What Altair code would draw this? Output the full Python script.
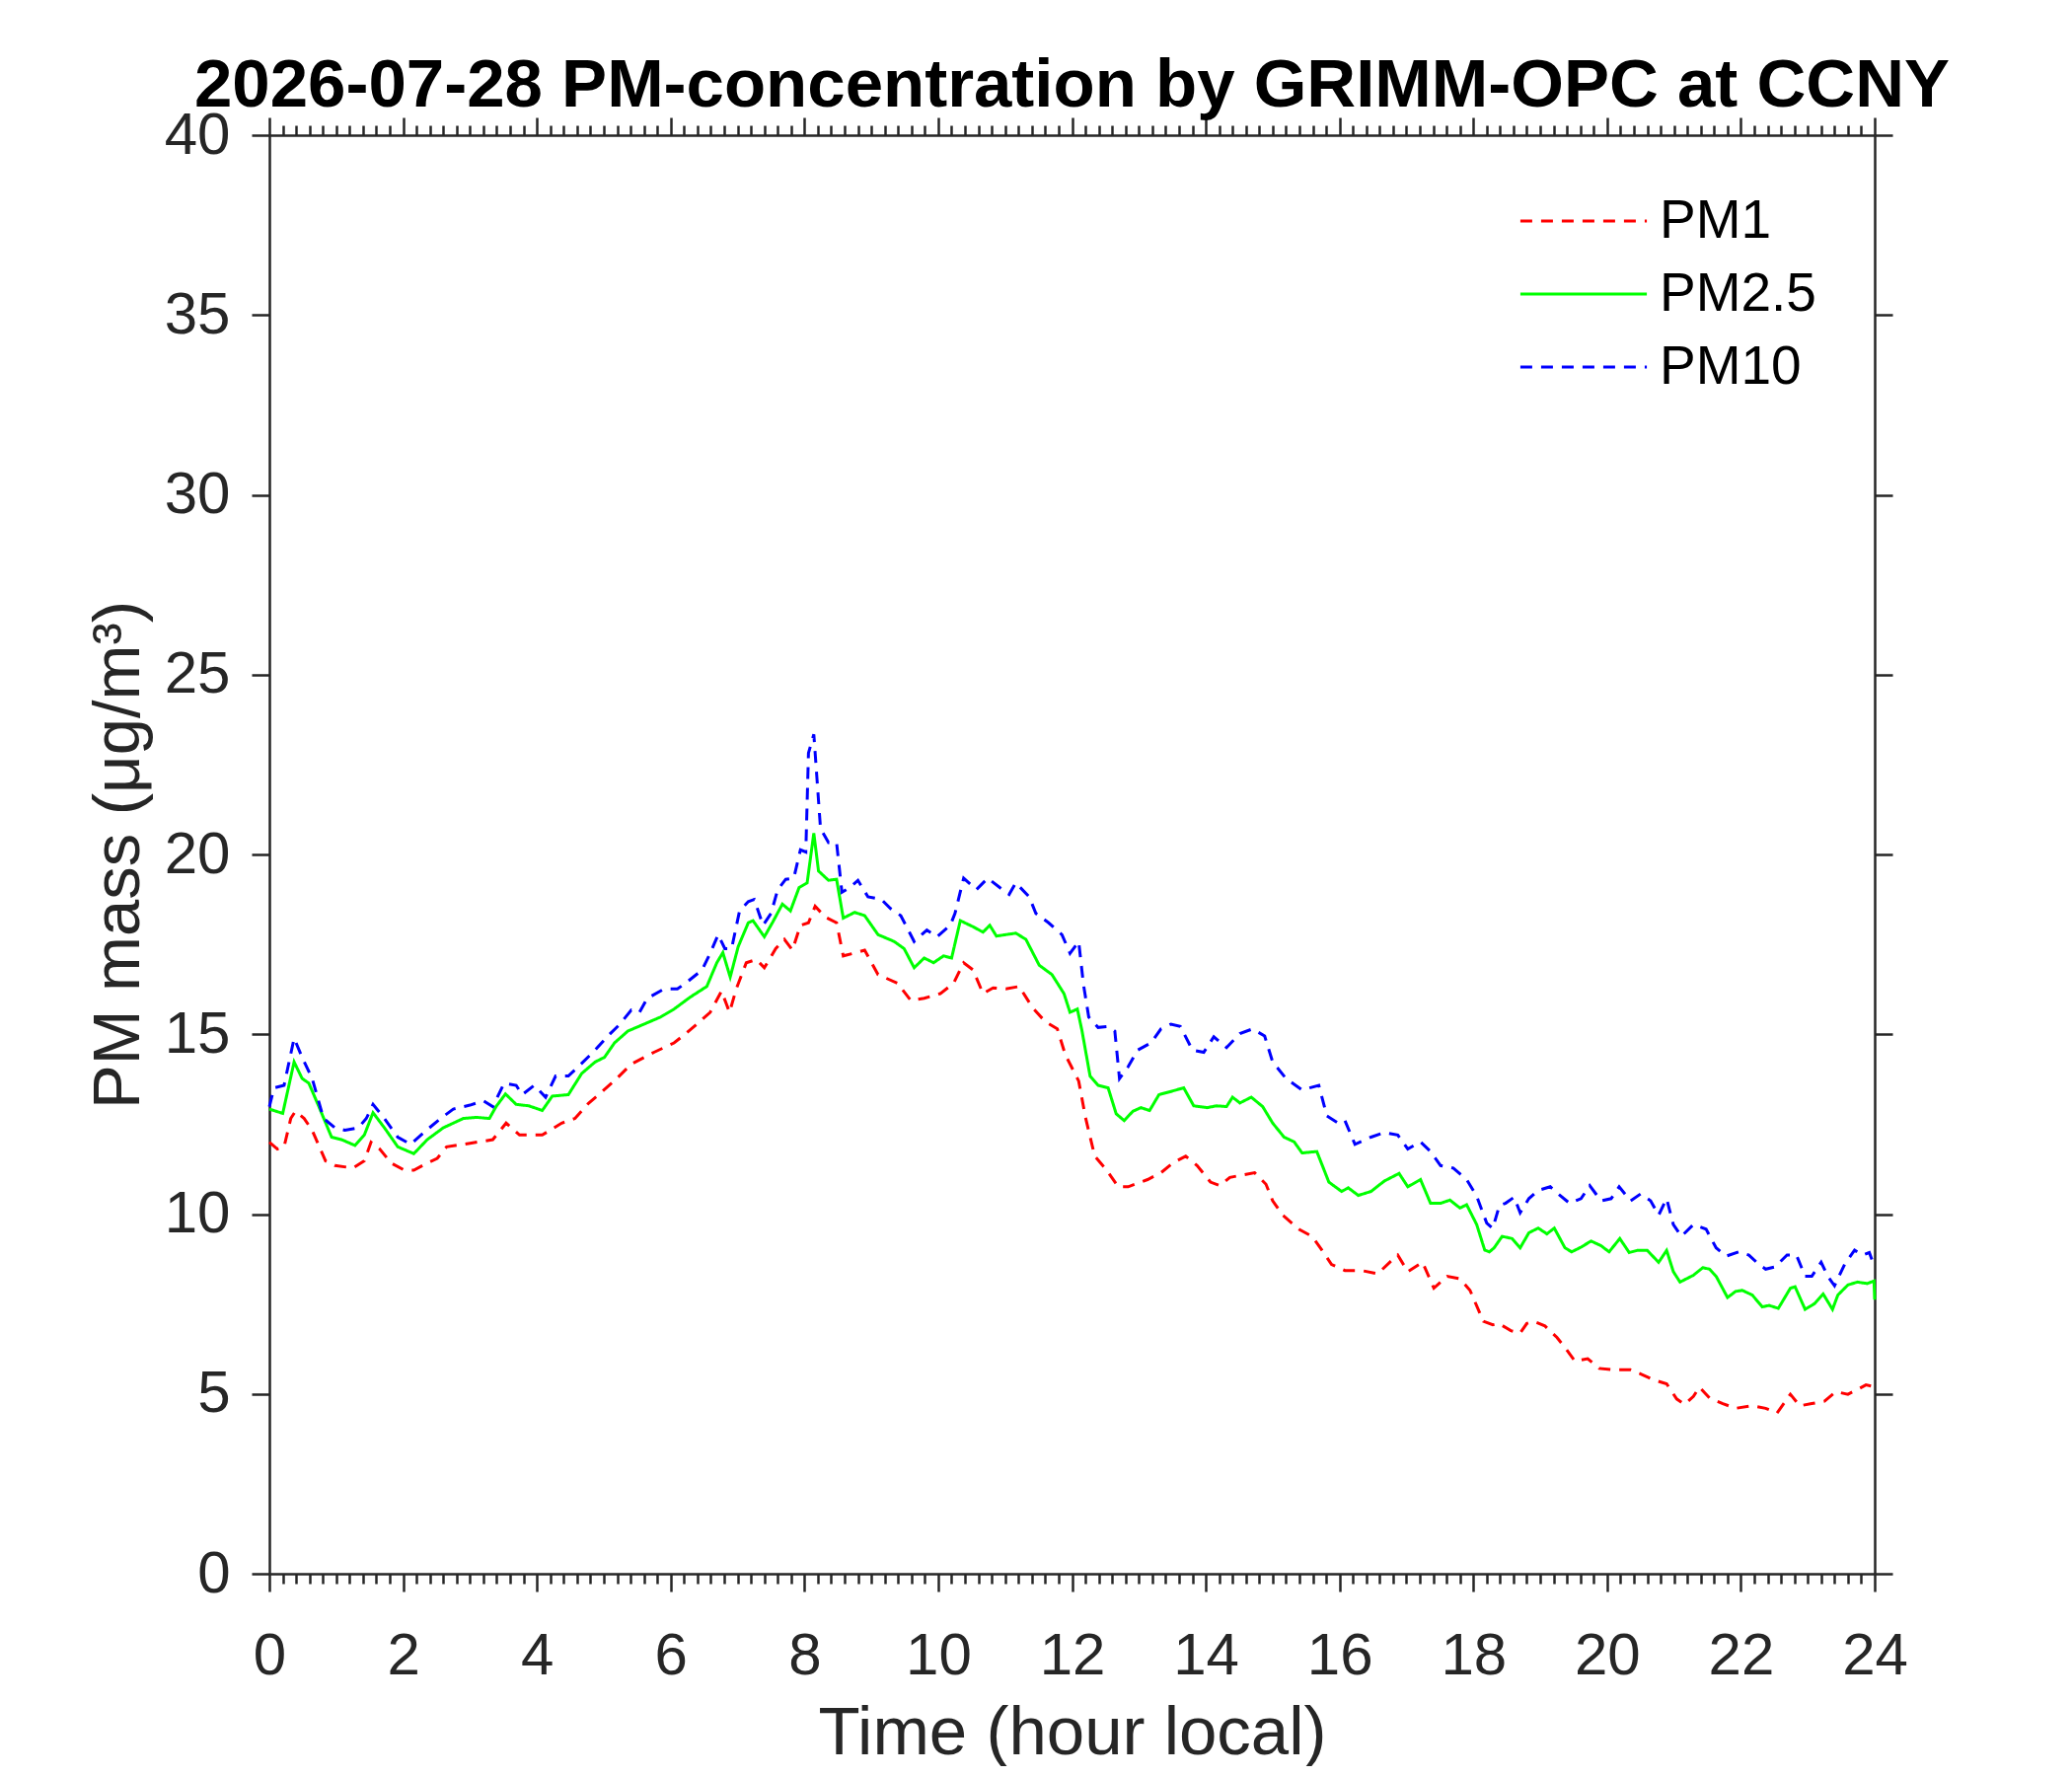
import altair as alt
import pandas as pd

# ---------------- data ----------------
series_names = ["PM1", "PM2.5", "PM10"]
series_colors = ["#ff0000", "#00ff00", "#0000ff"]

pm1_hours = [0.0, 0.12, 0.22, 0.32, 0.39, 0.52, 0.64, 0.84, 0.98, 1.25, 1.42, 1.52, 1.65, 1.82,
             2.02, 2.16, 2.36, 2.51, 2.65, 3.0, 3.34, 3.54, 3.74, 4.08, 4.37, 4.57, 4.77, 4.96,
             5.16, 5.41, 5.75, 6.05, 6.2, 6.39, 6.59, 6.76, 6.88, 6.98, 7.13, 7.28, 7.4, 7.57,
             7.7, 7.82, 7.94, 8.06, 8.16, 8.31, 8.48, 8.58, 8.73, 8.9, 9.1, 9.39, 9.59, 9.79,
             10.03, 10.23, 10.38, 10.52, 10.67, 10.82, 11.01, 11.21, 11.41, 11.6, 11.78, 11.9,
             12.1, 12.2, 12.34, 12.52, 12.69, 12.84, 13.13, 13.33, 13.52, 13.7, 13.87, 14.07,
             14.21, 14.36, 14.56, 14.73, 14.9, 15.0, 15.15, 15.39, 15.59, 15.74, 15.88, 16.08,
             16.33, 16.57, 16.75, 16.87, 17.02, 17.24, 17.41, 17.61, 17.8, 17.95, 18.15, 18.29,
             18.38, 18.56, 18.7, 18.8, 18.9, 19.07, 19.25, 19.39, 19.52, 19.71, 19.88, 20.11,
             20.35, 20.52, 20.7, 20.89, 21.04, 21.16, 21.29, 21.38, 21.53, 21.73, 21.92, 22.17,
             22.37, 22.54, 22.64, 22.74, 22.88, 23.06, 23.25, 23.42, 23.6, 23.74, 23.87, 24.0]
pm1_values = [12.0, 11.81, 11.87, 12.66, 12.86, 12.66, 12.33, 11.48, 11.35, 11.28, 11.48, 12.0, 11.81, 11.42,
              11.22, 11.22, 11.42, 11.55, 11.87, 11.97, 12.07, 12.53, 12.2, 12.2, 12.53, 12.66, 13.08, 13.38,
              13.71, 14.17, 14.5, 14.76, 14.98, 15.28, 15.61, 16.2, 15.61, 16.26, 16.99, 17.08, 16.85, 17.38,
              17.64, 17.34, 18.03, 18.1, 18.56, 18.26, 18.1, 17.18, 17.25, 17.34, 16.66, 16.42, 15.94, 16.0,
              16.13, 16.42, 16.99, 16.79, 16.13, 16.29, 16.26, 16.33, 15.74, 15.35, 15.15, 14.43,
              13.7, 12.7, 11.61, 11.22, 10.76, 10.76, 10.96, 11.15, 11.44, 11.61, 11.35, 10.89,
              10.79, 11.02, 11.09, 11.15, 10.83, 10.37, 9.97, 9.58, 9.38, 8.99, 8.6, 8.43,
              8.43, 8.34, 8.66, 8.86, 8.4, 8.66, 7.94, 8.27, 8.2, 7.88, 7.02, 6.92,
              6.96, 6.76, 6.69, 6.96, 7.02, 6.89, 6.57, 6.24, 5.91, 5.98, 5.71, 5.67,
              5.67, 5.54, 5.39, 5.28, 4.86, 4.71, 4.93, 5.19, 4.89, 4.73, 4.6, 4.67,
              4.6, 4.47, 4.73, 4.99, 4.67, 4.73, 4.8, 5.06, 4.99, 5.12, 5.25, 5.2]

pm25_hours = [0.0, 0.2, 0.37, 0.49, 0.59, 0.74, 0.93, 1.08, 1.28, 1.42, 1.55, 1.72, 1.92, 2.16,
              2.36, 2.6, 2.9, 3.1, 3.29, 3.39, 3.53, 3.69, 3.88, 4.08, 4.23, 4.47, 4.67, 4.87,
              5.01, 5.16, 5.36, 5.55, 5.85, 6.05, 6.29, 6.54, 6.69, 6.78, 6.89, 7.01, 7.16, 7.23,
              7.4, 7.52, 7.67, 7.79, 7.92, 8.04, 8.14, 8.21, 8.36, 8.48, 8.58, 8.75, 8.9, 9.1,
              9.34, 9.49, 9.64, 9.79, 9.93, 10.08, 10.2, 10.33, 10.52, 10.67, 10.77, 10.87, 11.01,
              11.16, 11.31, 11.51, 11.7, 11.88, 11.97, 12.08, 12.15, 12.27, 12.39, 12.54, 12.66,
              12.78, 12.91, 13.03, 13.16, 13.3, 13.48, 13.67, 13.82, 14.02, 14.16, 14.31, 14.4,
              14.51, 14.68, 14.85, 15.0, 15.17, 15.32, 15.44, 15.66, 15.84, 16.03, 16.13, 16.28,
              16.47, 16.67, 16.89, 17.02, 17.21, 17.36, 17.51, 17.65, 17.8, 17.9, 18.05, 18.17,
              18.24, 18.31, 18.43, 18.58, 18.7, 18.83, 18.97, 19.1, 19.21, 19.37, 19.47, 19.61,
              19.76, 19.91, 20.03, 20.19, 20.33, 20.45, 20.6, 20.77, 20.89, 20.99, 21.09, 21.29,
              21.43, 21.53, 21.63, 21.8, 21.92, 22.02, 22.17, 22.32, 22.42, 22.56, 22.74, 22.81,
              22.96, 23.1, 23.23, 23.37, 23.45, 23.6, 23.74, 23.89, 23.99, 24.0]
pm25_values = [12.92, 12.8, 14.23, 13.77, 13.64, 12.99, 12.14, 12.07, 11.91, 12.2, 12.82, 12.4, 11.87, 11.68,
               12.07, 12.4, 12.66, 12.69, 12.66, 12.99, 13.34, 13.05, 13.01, 12.88, 13.28, 13.32, 13.91, 14.23,
               14.36, 14.76, 15.09, 15.24, 15.48, 15.7, 16.03, 16.33, 16.99, 17.27, 16.59, 17.44, 18.1, 18.16,
               17.71, 18.1, 18.62, 18.43, 19.08, 19.21, 20.59, 19.54, 19.28, 19.31, 18.23, 18.39, 18.3, 17.77,
               17.58, 17.38, 16.85, 17.12, 16.99, 17.18, 17.12, 18.16, 17.99, 17.84, 18.03, 17.73, 17.77,
               17.81, 17.64, 16.92, 16.66, 16.13, 15.61, 15.7, 15.09, 13.84, 13.58, 13.51, 12.79,
               12.6, 12.86, 12.96, 12.88, 13.32, 13.41, 13.51, 13.01, 12.96, 13.01, 12.99, 13.25,
               13.09, 13.25, 12.99, 12.53, 12.14, 12.01, 11.7, 11.74, 10.89, 10.63, 10.73, 10.52,
               10.63, 10.92, 11.13, 10.76, 10.96, 10.3, 10.3, 10.39, 10.17, 10.26, 9.71, 9.0,
               8.95, 9.06, 9.38, 9.32, 9.06, 9.48, 9.61, 9.45, 9.61, 9.06, 8.95, 9.08,
               9.25, 9.12, 8.95, 9.32, 8.93, 8.99, 8.99, 8.66, 8.99, 8.4, 8.11, 8.3,
               8.51, 8.47, 8.27, 7.68, 7.85, 7.88, 7.75, 7.42, 7.46, 7.38, 7.94, 7.98,
               7.35, 7.51, 7.78, 7.35, 7.75, 8.03, 8.11, 8.07, 8.14, 7.62]

pm10_hours = [0.0, 0.07, 0.22, 0.37, 0.49, 0.64, 0.81, 0.98, 1.13, 1.33, 1.45, 1.55, 1.72, 1.92,
              2.11, 2.31, 2.56, 2.75, 3.0, 3.2, 3.34, 3.51, 3.69, 3.78, 3.96, 4.13, 4.28, 4.47,
              4.62, 4.87, 5.06, 5.24, 5.41, 5.53, 5.65, 5.9, 6.1, 6.25, 6.47, 6.59, 6.71, 6.81,
              6.91, 7.03, 7.16, 7.25, 7.38, 7.5, 7.6, 7.72, 7.84, 7.94, 8.02, 8.06, 8.14, 8.19,
              8.24, 8.36, 8.48, 8.56, 8.68, 8.8, 8.95, 9.15, 9.29, 9.44, 9.64, 9.83, 9.98, 10.18,
              10.25, 10.38, 10.57, 10.74, 10.92, 11.06, 11.16, 11.36, 11.46, 11.65, 11.85, 11.97,
              12.1, 12.17, 12.25, 12.39, 12.54, 12.64, 12.71, 12.84, 12.98, 13.18, 13.33, 13.48,
              13.62, 13.8, 13.97, 14.12, 14.31, 14.51, 14.7, 14.88, 15.0, 15.2, 15.44, 15.69,
              15.81, 15.98, 16.08, 16.23, 16.47, 16.67, 16.87, 17.02, 17.21, 17.36, 17.51, 17.7,
              17.9, 18.05, 18.2, 18.29, 18.39, 18.48, 18.61, 18.7, 18.83, 18.97, 19.15, 19.27,
              19.44, 19.61, 19.74, 19.91, 20.06, 20.18, 20.35, 20.5, 20.65, 20.77, 20.89, 20.99,
              21.11, 21.29, 21.48, 21.63, 21.78, 21.97, 22.12, 22.27, 22.37, 22.51, 22.69, 22.83,
              22.96, 23.06, 23.2, 23.3, 23.4, 23.55, 23.7, 23.82, 23.92, 24.0]
pm10_values = [12.99, 13.51, 13.58, 14.89, 14.36, 13.77, 12.66, 12.4, 12.33, 12.4, 12.66, 13.05, 12.66, 12.14,
               11.94, 12.27, 12.66, 12.92, 13.03, 13.15, 12.99, 13.64, 13.58, 13.32, 13.58, 13.25, 13.84, 13.84,
               14.1, 14.56, 14.95, 15.28, 15.67, 15.6, 16.0, 16.26, 16.26, 16.46, 16.79, 17.25, 17.77, 17.38,
               17.38, 18.43, 18.69, 18.75, 18.03, 18.36, 19.02, 19.31, 19.34, 20.13, 20.07, 22.82, 23.34, 22.03,
               20.72, 20.33, 20.33, 18.95, 19.08, 19.28, 18.82, 18.75, 18.49, 18.3, 17.58, 17.9, 17.71, 18.03,
               18.36, 19.34, 19.02, 19.34, 19.08, 18.89, 19.21, 18.82, 18.36, 18.1, 17.77, 17.25,
               17.58, 16.4, 15.48, 15.19, 15.22, 15.09, 13.77, 14.1, 14.56, 14.76, 15.15, 15.28,
               15.22, 14.56, 14.5, 14.93, 14.63, 15.02, 15.15, 14.95, 14.23, 13.77, 13.45, 13.58,
               12.73, 12.53, 12.6, 11.94, 12.14, 12.27, 12.2, 11.81, 12.01, 11.74, 11.35, 11.28,
               10.96, 10.5, 9.75, 9.6, 10.24, 10.3, 10.47, 10.04, 10.43, 10.66, 10.76, 10.56,
               10.3, 10.43, 10.79, 10.37, 10.43, 10.76, 10.37, 10.56, 10.37, 9.97, 10.43, 9.71,
               9.38, 9.71, 9.58, 9.06, 8.83, 8.95, 8.86, 8.6, 8.47, 8.53, 8.86, 8.86,
               8.27, 8.27, 8.66, 8.27, 8.01, 8.6, 9.0, 8.86, 8.93, 8.53]

x_major_ticks = list(range(0, 25, 2))
y_major_ticks = list(range(0, 41, 5))

rows = []
for idx, (name, hrs, vals) in enumerate([("PM1", pm1_hours, pm1_values),
                                          ("PM2.5", pm25_hours, pm25_values),
                                          ("PM10", pm10_hours, pm10_values)]):
    for h, v in zip(hrs, vals):
        rows.append({"hour": h, "mass": v, "series": name, "order": idx})
df = pd.DataFrame(rows)

# ---------------- styling ----------------
FONT = "Liberation Sans"
AX = "#262626"
W, H = 1627, 1458
minor_ticks = [round(k * 0.2, 1) for k in range(121)]
is_major = "abs(datum.value / 2 - round(datum.value / 2)) < 0.001"

common_axis = dict(domainColor=AX, tickColor=AX, labelColor=AX, titleColor=AX,
                   domainWidth=2.5, tickWidth=2.5, grid=False, labelFont=FONT, titleFont=FONT,
                   titleFontWeight="normal")

x_scale = alt.Scale(domain=[0, 24], nice=False, zero=False)
y_scale = alt.Scale(domain=[0, 40], nice=False, zero=True)

x_bottom = alt.X("hour:Q", scale=x_scale, axis=alt.Axis(
    orient="bottom", values=minor_ticks,
    labelExpr=f"{is_major} ? format(datum.value, 'd') : ''",
    tickSize={"condition": {"test": is_major, "value": 18}, "value": 10},
    labelFontSize=60, labelPadding=36, labelFlush=False, labelOverlap=False,
    title="Time (hour local)", titleFontSize=69, titlePadding=14, **common_axis))
y_left = alt.Y("mass:Q", scale=y_scale, axis=alt.Axis(
    orient="left", values=y_major_ticks, tickSize=18, labelFontSize=60, labelPadding=22,
    labelFlush=False, labelOverlap=False,
    title="PM mass (μg/m³)", titleFontSize=67, titlePadding=12, **common_axis))

x_top = alt.X("hour:Q", scale=x_scale, axis=alt.Axis(
    orient="top", values=minor_ticks, labels=False, title=None,
    tickSize={"condition": {"test": is_major, "value": 18}, "value": 10}, **common_axis))
y_right = alt.Y("mass:Q", scale=y_scale, axis=alt.Axis(
    orient="right", values=y_major_ticks, labels=False, title=None, tickSize=18, **common_axis))

# wide horizontal sample line (custom path, 1.44x wider than the symbol box)
legend_cfg = dict(title=None, orient="none", legendX=1286, legendY=41,
                  symbolType="M-1.44,0H1.44", symbolSize=7921, symbolStrokeWidth=3,
                  labelFont=FONT, labelFontSize=55, labelColor="#000000",
                  labelOffset=31, rowPadding=0, padding=0)

lines = alt.Chart(df).mark_line(strokeWidth=3, strokeCap="butt").encode(
    x=x_bottom,
    y=y_left,
    color=alt.Color("series:N", scale=alt.Scale(domain=series_names, range=series_colors),
                    legend=alt.Legend(**legend_cfg)),
    strokeDash=alt.StrokeDash("series:N", scale=alt.Scale(domain=series_names,
                                                          range=[[12, 9], [1, 0], [12, 9]]),
                              legend=alt.Legend(**legend_cfg)),
    order=alt.Order("order:Q"),
)

frame = alt.Chart(df).mark_line(opacity=0).encode(
    x=x_top, y=y_right, detail="series:N")

chart = alt.layer(lines, frame).properties(
    width=W, height=H,
    autosize=alt.AutoSizeParams(type="none"),
    padding={"left": 265, "top": 129, "right": 150, "bottom": 195},
    title=alt.TitleParams(
        text="2026-07-28 PM-concentration by GRIMM-OPC at CCNY",
        font=FONT, fontSize=69, fontWeight="bold", color="#000000",
        anchor="middle", frame="group", baseline="alphabetic", offset=-70),
).configure_view(stroke=None).configure(background="white")

chart.save("out.html", embed_options={"renderer": "svg", "actions": False})
